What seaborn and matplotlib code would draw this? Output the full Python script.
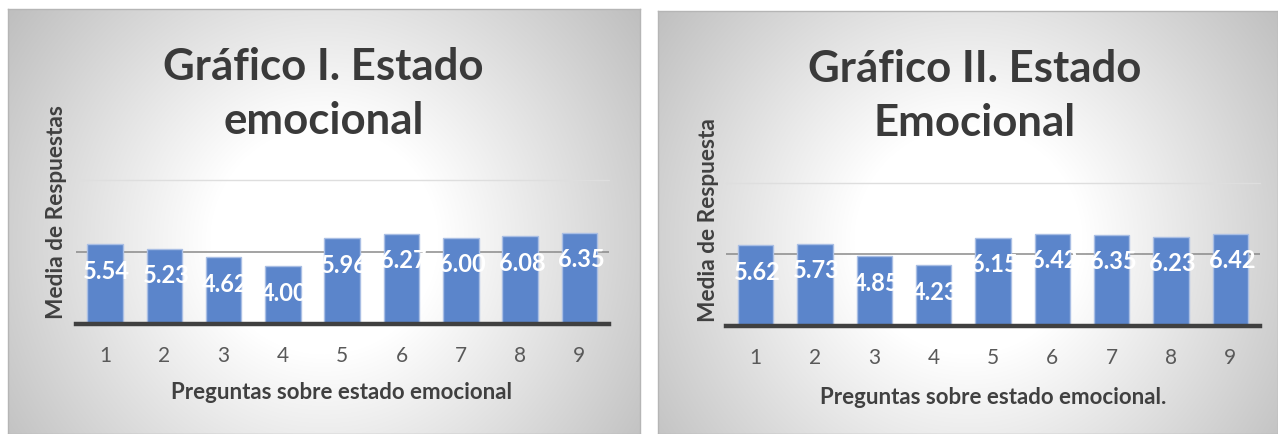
import numpy as np
import pandas as pd
import matplotlib
matplotlib.use("Agg")
import matplotlib.pyplot as plt
import seaborn as sns

# ---- data ----
preguntas = ["1", "2", "3", "4", "5", "6", "7", "8", "9"]
valores_1 = [5.54, 5.23, 4.62, 4.00, 5.96, 6.27, 6.00, 6.08, 6.35]
valores_2 = [5.62, 5.73, 4.85, 4.23, 6.15, 6.42, 6.35, 6.23, 6.42]
titulo_1 = "Gráfico I. Estado\nemocional"
titulo_2 = "Gráfico II. Estado\nEmocional"
ylabel_1 = "Media de Respuestas"
ylabel_2 = "Media de Respuesta"
xlabel_1 = "Preguntas sobre estado emocional"
xlabel_2 = "Preguntas sobre estado emocional."

sns.set_theme(style="white")
plt.rcParams["font.family"] = ["Lato", "DejaVu Sans"]

W, H = 1278, 434
fig = plt.figure(figsize=(W / 100, H / 100), dpi=100)
fig.patch.set_facecolor("white")

BAR = "#5B85CB"
EDGE = "#A9BEE4"
TXT = "#404040"


def px_rect(x0, y0, x1, y1):
    return [x0 / W, 1 - y1 / H, (x1 - x0) / W, (y1 - y0) / H]


def background(rect_px, center):
    x0, y0, x1, y1 = rect_px
    bg = fig.add_axes(px_rect(x0, y0, x1, y1), zorder=0)
    w, h = int(x1 - x0), int(y1 - y0)
    xx, yy = np.meshgrid(np.arange(w), np.arange(h))
    d = np.hypot(xx - (center[0] - x0), yy - (center[1] - y0))
    v = 255 - 0.233 * np.clip(d - 114, 0, None)
    v = np.clip(v, 185, 255) / 255.0
    img = np.dstack([v, v, v])
    bg.imshow(img, aspect="auto", interpolation="bilinear")
    bg.set_xticks([])
    bg.set_yticks([])
    for s in bg.spines.values():
        s.set_color("#b5b5b5")
        s.set_linewidth(1.0)
    return bg


def panel(axrect_px, valores, titulo, title_xy, ylab, ylab_xy, xlab, xlab_xy):
    ax = fig.add_axes(px_rect(*axrect_px), zorder=2)
    ax.patch.set_alpha(0)
    df = pd.DataFrame({"pregunta": preguntas, "media": valores})
    ax.axhline(5, color="#8a8a8a", lw=1.1, zorder=0)
    ax.axhline(10, color="#dedede", lw=1.0, zorder=0, clip_on=False)
    sns.barplot(data=df, x="pregunta", y="media", ax=ax, color=BAR,
                saturation=1, width=0.6, edgecolor=EDGE, linewidth=1.0,
                zorder=2)
    ax.set_xlim(-0.5, len(preguntas) - 0.5)
    ax.set_ylim(0, 10)
    ax.set_yticks([])
    for side in ["left", "right", "top"]:
        ax.spines[side].set_visible(False)
    ax.spines["bottom"].set_color("#404040")
    ax.spines["bottom"].set_linewidth(3.2)
    ax.spines["bottom"].set_zorder(3)
    ax.tick_params(axis="x", length=0, pad=16, labelsize=15,
                   labelcolor="#595959")
    for p, v in zip(ax.patches, valores):
        ax.annotate(f"{v:.2f}", (p.get_x() + p.get_width() / 2 + 0.03, p.get_height()),
                    xytext=(0, -27), textcoords="offset pixels",
                    ha="center", va="center", color="white",
                    fontsize=17, fontweight="bold", zorder=4)
    ax.set_xlabel(xlab, fontsize=16, fontweight="bold", color=TXT, va="center")
    ax.xaxis.set_label_coords(*xlab_xy)
    ax.set_ylabel(ylab, fontsize=16.3, fontweight="bold", color=TXT, va="center")
    ax.yaxis.set_label_coords(*ylab_xy)
    fig.text(title_xy[0] / W, 1 - title_xy[1] / H, titulo, ha="center",
             va="center", fontsize=31.5, fontweight="bold", color="#3a3a3a",
             linespacing=1.45, zorder=5)
    return ax


background((8, 9, 640, 434), (324, 240))
background((658, 11, 1278, 434), (968, 240))

panel((75.5, 180, 609, 324), valores_1, titulo_1, (323.5, 94),
      ylabel_1, (-0.035, 0.778), xlabel_1, (0.4995, -0.479))
panel((726, 182.5, 1260, 326), valores_2, titulo_2, (974.5, 96),
      ylabel_2, (-0.032, 0.739), xlabel_2, (0.5, -0.495))

fig.savefig("out.png", dpi=100)
